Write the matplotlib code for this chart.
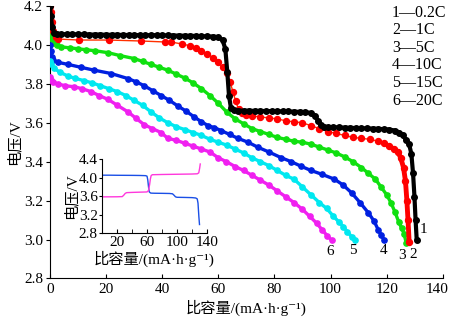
import matplotlib.pyplot as plt
import matplotlib.transforms as mtransforms

plt.rcParams['font.family'] = ['Liberation Serif', 'Noto Sans CJK SC', 'DejaVu Serif']
plt.rcParams['font.size'] = 11

# 放电曲线数据 (比容量 mAh/g, 电压 V)
x1 = [0, 0.3, 0.8, 1.5, 2.5, 4, 6, 8, 10, 12, 14, 16, 18, 20, 22, 24, 26, 28, 30, 32, 34, 36, 38, 40,
      42, 44, 46, 48, 50, 52, 54, 56, 58, 60, 61.5, 62.5, 63.2, 63.8, 64.5, 65.5, 67, 69, 71, 73, 75, 77,
      79, 81, 83, 85, 87, 89, 91, 93, 94.5, 95.5, 96.5, 97.5, 99, 101, 103, 105, 107, 109, 111, 113, 115,
      117, 119, 121, 123, 124.5, 125.8, 127, 128, 128.8, 129.4, 129.9, 130.3, 130.7]
v1 = [4.2, 4.15, 4.09, 4.06, 4.055, 4.055, 4.055, 4.055, 4.054, 4.054, 4.053, 4.053, 4.053, 4.052, 4.052,
      4.052, 4.051, 4.051, 4.051, 4.05, 4.05, 4.05, 4.05, 4.049, 4.049, 4.048, 4.048, 4.047, 4.047, 4.046,
      4.045, 4.044, 4.043, 4.04, 4.025, 3.98, 3.86, 3.74, 3.675, 3.665, 3.663, 3.662, 3.662, 3.661, 3.661,
      3.66, 3.66, 3.659, 3.658, 3.658, 3.657, 3.656, 3.655, 3.65, 3.635, 3.61, 3.59, 3.58, 3.578, 3.577,
      3.576, 3.575, 3.574, 3.573, 3.572, 3.571, 3.57, 3.569, 3.567, 3.565, 3.56, 3.55, 3.535, 3.51, 3.49,
      3.44, 3.34, 3.22, 3.1, 3.0]

x2 = [0, 0.3, 0.7, 1.2, 2, 3, 10.5, 21, 32.5, 41, 43, 47, 50, 52, 54, 56, 58, 60, 61.5, 63, 64.2, 65.2,
      66.2, 67.2, 68.5, 70, 72, 75, 78, 81, 84, 87, 90, 93, 96, 99, 102, 105, 108, 111, 114, 117, 119, 121,
      122.5, 124, 125, 126, 126.7, 127.2, 127.6, 128]
v2 = [4.2, 4.17, 4.12, 4.07, 4.04, 4.03, 4.025, 4.025, 4.02, 4.015, 4.015, 4.005, 3.995, 3.985, 3.97,
      3.955, 3.935, 3.91, 3.885, 3.855, 3.81, 3.76, 3.71, 3.67, 3.65, 3.64, 3.635, 3.63, 3.625, 3.62, 3.61,
      3.605, 3.6, 3.585, 3.57, 3.555, 3.545, 3.535, 3.525, 3.52, 3.515, 3.505, 3.495, 3.48, 3.465, 3.45,
      3.42, 3.37, 3.3, 3.2, 3.1, 2.99]

x3 = [0, 0.3, 0.8, 1.5, 2.5, 3.9, 7, 10, 13, 16, 20.7, 25, 30, 33, 36, 39, 42, 45, 48, 51, 54, 57, 60, 63,
      66, 69, 72, 75, 78, 81, 84, 87, 90, 93, 96, 99, 102, 105, 108, 111, 113.5, 116, 118, 120, 121.5, 123,
      124.3, 125.3, 126.2, 127]
v3 = [4.08, 4.06, 4.03, 4.01, 4.0, 3.99, 3.985, 3.98, 3.975, 3.97, 3.96, 3.945, 3.93, 3.915, 3.9, 3.885,
      3.87, 3.85, 3.83, 3.805, 3.775, 3.74, 3.7, 3.655, 3.62, 3.595, 3.57, 3.555, 3.54, 3.525, 3.515, 3.505,
      3.5, 3.49, 3.475, 3.46, 3.445, 3.425, 3.4, 3.37, 3.34, 3.31, 3.27, 3.23, 3.19, 3.14, 3.09, 3.06, 3.03,
      2.98]

x4 = [0, 0.3, 0.7, 1.2, 3, 6.4, 11, 15.8, 21.8, 27.8, 30.8, 33.6, 36.6, 39.6, 42.6, 45.7, 48.5, 51.4, 54,
      56.4, 58.6, 61, 64, 67, 70.6, 74, 78, 82.5, 86, 89.6, 93, 97, 101.4, 104.5, 107.5, 110.5, 113.5,
      115.5, 117, 118, 119]
v4 = [4.0, 3.97, 3.94, 3.92, 3.91, 3.9, 3.885, 3.87, 3.853, 3.827, 3.81, 3.79, 3.765, 3.74, 3.715, 3.685,
      3.66, 3.63, 3.605, 3.585, 3.575, 3.56, 3.54, 3.52, 3.5, 3.475, 3.45, 3.42, 3.4, 3.376, 3.355, 3.335,
      3.31, 3.28, 3.24, 3.19, 3.137, 3.095, 3.05, 3.025, 3.0]

x5 = [0, 0.4, 1.5, 3.5, 6.4, 9, 12, 15, 18, 21, 24, 27, 30, 33, 36, 39, 42, 45, 48, 51, 54, 57, 60, 63, 66,
      69, 72, 75, 78, 81, 84, 87, 90, 93, 96, 98.6, 101, 103, 104.6, 106, 107.5, 108.6]
v5 = [3.915, 3.9, 3.88, 3.86, 3.84, 3.828, 3.817, 3.805, 3.79, 3.775, 3.76, 3.74, 3.715, 3.69, 3.656,
      3.625, 3.6, 3.58, 3.565, 3.55, 3.535, 3.515, 3.5, 3.485, 3.465, 3.445, 3.42, 3.4, 3.38, 3.355, 3.33,
      3.31, 3.27, 3.23, 3.19, 3.16, 3.12, 3.09, 3.065, 3.04, 3.015, 3.0]

x6 = [0, 0.4, 1.2, 2.7, 5.5, 8.6, 11.5, 14.6, 17.5, 20.7, 24, 27.8, 30.5, 33.6, 36.5, 39.6, 42, 45, 48,
      51, 54, 57, 60, 62.9, 66, 69, 72, 75, 78, 81, 84, 87, 90, 92.5, 95, 97, 98.8, 100.4]
v6 = [3.837, 3.82, 3.81, 3.8, 3.79, 3.785, 3.775, 3.76, 3.74, 3.72, 3.69, 3.656, 3.625, 3.59, 3.57, 3.55,
      3.52, 3.51, 3.495, 3.48, 3.465, 3.45, 3.42, 3.4, 3.375, 3.355, 3.33, 3.305, 3.28, 3.25, 3.22, 3.19,
      3.155, 3.12, 3.085, 3.05, 3.02, 2.997]

# 插图: 0.2C 充放电曲线
xd = [0, 2, 10, 20, 30, 40, 50, 58, 60, 61, 62, 63, 65, 70, 80, 90, 94, 96, 98, 100, 110, 120, 125, 127,
      128, 128.6, 129.2, 130]
vd = [4.05, 4.05, 4.05, 4.048, 4.047, 4.046, 4.044, 4.04, 4.03, 3.95, 3.8, 3.69, 3.665, 3.662, 3.66, 3.657,
      3.65, 3.62, 3.585, 3.575, 3.572, 3.568, 3.56, 3.54, 3.45, 3.3, 3.15, 2.99]
xc = [0, 10, 20, 27, 29, 31, 33, 40, 50, 60, 62, 63.5, 64.5, 65.5, 67, 80, 100, 120, 127, 129, 130.2, 131]
vc = [3.585, 3.585, 3.586, 3.59, 3.62, 3.66, 3.675, 3.68, 3.685, 3.69, 3.72, 3.85, 3.97, 4.04, 4.06, 4.065,
      4.07, 4.075, 4.08, 4.1, 4.2, 4.29]

rates = ['0.2C', '1C', '5C', '10C', '15C', '20C']
colors = ['black', '#ff0000', '#10e010', '#0020e0', '#00e8f0', '#f020f0']
series = [(x1, v1), (x2, v2), (x3, v3), (x4, v4), (x5, v5), (x6, v6)]
# 曲线末端编号的偏移 (points)
num_off = [(5, 7), (3, -9), (-3, -9), (0, -8), (-1, -8), (-1, -8)]

fig = plt.figure(figsize=(4.5, 3.21), dpi=100)
ax = fig.add_axes([0.111, 0.1324, 0.873, 0.849])

for i, (xs, vs) in enumerate(series[::-1]):
    k = 5 - i
    if k == 0:
        ax.plot(xs, vs, '-o', color=colors[k], lw=3, ms=4, zorder=10)
    elif k == 1:
        ax.plot(xs, vs, '-', color='#ff3000', lw=1, zorder=9)
        ax.plot(xs, vs, 'o', color=colors[k], ms=4.3, zorder=9)
        ax.plot(xs[-8:], vs[-8:], '-', color=colors[k], lw=3.5, zorder=9)
    else:
        ax.plot(xs, vs, '-o', color=colors[k], lw=2.4, ms=3.8, zorder=5 + k)
    ax.annotate(str(k + 1), (xs[-1], vs[-1]), xytext=num_off[k], textcoords='offset points',
                ha='center', va='center', fontsize=11)

ax.set_xlim(0, 140)
ax.set_ylim(2.8, 4.2)
ax.set_xticks(range(0, 141, 20))
ax.set_yticks([2.8, 3.0, 3.2, 3.4, 3.6, 3.8, 4.0, 4.2])
ax.set_yticklabels(['2.8', '3.0', '3.2', '3.4', '3.6', '3.8', '4.0', '4.2'])
ax.tick_params(axis='x', direction='in', length=3, labelsize=11, pad=3)
ax.tick_params(axis='y', direction='out', length=3, labelsize=11, pad=2)
ax.spines['top'].set_visible(False)
ax.spines['right'].set_visible(False)
ax.set_xlabel('比容量/(mA·h·g⁻¹)', fontsize=11, labelpad=3)
ax.set_ylabel('电压/V', fontsize=11, labelpad=2)

# 最右端刻度标签稍向左移, 避免被裁切
last = ax.get_xticklabels()[-1]
last.set_transform(last.get_transform() + mtransforms.ScaledTranslation(-6 / 100, 0, fig.dpi_scale_trans))

legend_txt = '\n'.join(f'{i + 1}—{r}' for i, r in enumerate(rates))
fig.text(0.871, 0.985, legend_txt, ha='left', va='top', fontsize=11.5, linespacing=1.13)

# 插图
ins = fig.add_axes([0.2267, 0.273, 0.2333, 0.232])
ins.plot(xd, vd, color='#1a4fe6', lw=1)
ins.plot(xc, vc, color='#ff38dc', lw=1)
ins.set_xlim(0, 140)
ins.set_ylim(2.8, 4.4)
ins.set_xticks([20, 60, 100, 140])
ins.set_xticks([40, 80, 120], minor=True)
ins.set_yticks([2.8, 3.2, 3.6, 4.0, 4.4])
ins.set_yticklabels(['2.8', '3.2', '3.6', '4.0', '4.4'])
ins.tick_params(axis='x', which='both', direction='in', length=3, labelsize=11, pad=2)
ins.tick_params(axis='y', direction='out', length=2, labelsize=11, pad=1)
ins.spines['top'].set_visible(False)
ins.spines['right'].set_visible(False)
ins.patch.set_alpha(0)
ins.set_xlabel('比容量/(mA·h·g⁻¹)', fontsize=11, labelpad=1)
ins.set_ylabel('电压/V', fontsize=11, labelpad=0)

fig.savefig('out.png', dpi=100)
